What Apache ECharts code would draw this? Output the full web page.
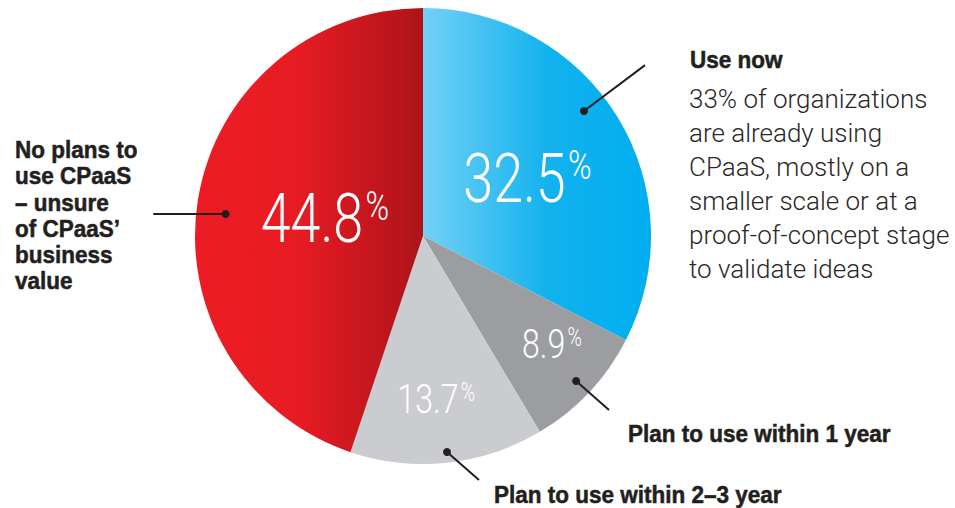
<!DOCTYPE html>
<html>
<head>
<meta charset="utf-8">
<script src="https://cdn.jsdelivr.net/npm/echarts@6/dist/echarts.min.js"></script>
<style>
html,body{margin:0;padding:0;background:#fff;}
#chart{width:955px;height:508px;}
</style>
</head>
<body>
<div id="chart"></div>
<script>
// ---- data ----
var categories = ['Use now', 'Plan to use within 1 year', 'Plan to use within 2–3 year', 'No plans to use CPaaS – unsure of CPaaS’ business value'];
var values = [32.5, 8.9, 13.7, 44.8];
var valueLabels = ['32.5', '8.9', '13.7', '44.8'];
var leftLabelLines = ['No plans to', 'use CPaaS', '– unsure', 'of CPaaS’', 'business', 'value'];
var useNowTitle = 'Use now';
var useNowBody = ['33% of organizations', 'are already using', 'CPaaS, mostly on a', 'smaller scale or at a', 'proof-of-concept stage', 'to validate ideas'];
var plan1Label = 'Plan to use within 1 year';
var plan23Label = 'Plan to use within 2–3 year';

// ---- layout / style (not data) ----
var CX = 423, CY = 236, R = 228;
var POLAR_EXT = 1.3;                       // polar system reaches 1.3 x pie radius
var labelRadius = [0.523, 0.739, 0.717, 0.437];
var labelAngleShift = [0.73, -0.86, 0.4, 0.22];
var bigSize = [69, 41, 41, 69];
var pctSize = [41, 25, 25, 41];
var numScaleX = 0.78;
// leader lines in polar space [radius as fraction of pie radius, angle percent]
var leaderStart = [[0.894, 14.49], [0.925, 37.07], [0.953, 48.24], [0.871, 76.77]];
var leaderEnd = [[1.229, 14.56], [1.117, 36.97], [1.098, 46.41], [1.187, 76.29]];

var sliceColors = [
  {type:'linear', x:0, y:0, x2:1, y2:0, colorStops:[{offset:0,color:'#72d1f6'},{offset:0.55,color:'#12b2ee'},{offset:1,color:'#00aeef'}]},
  '#9c9da1',
  '#cbcccf',
  {type:'linear', x:0, y:0, x2:1, y2:0, colorStops:[{offset:0,color:'#ed1c24'},{offset:0.45,color:'#e71b23'},{offset:1,color:'#ae131a'}]}
];

var total = values.reduce(function(a,b){return a+b;},0);
var midPct = [];
var acc = 0;
values.forEach(function(v){ midPct.push((acc + v/2)/total*100); acc += v; });

var NUMFONT = 'Roboto, "Liberation Sans", sans-serif';
var BOLDFONT = '"Liberation Sans", Arial, sans-serif';
var LIGHTFONT = 'Roboto, "Liberation Sans", sans-serif';
var INK = '#231f20';
var BOLD_SY = 1.08;

var series = [];
series.push({
  type: 'pie',
  center: [CX, CY],
  radius: R,
  startAngle: 90,
  clockwise: true,
  silent: true,
  label: {show:false},
  labelLine: {show:false},
  data: values.map(function(v,i){ return {name: categories[i], value: v, itemStyle:{color: sliceColors[i]}}; })
});

// leader lines with dots
leaderStart.forEach(function(s,i){
  series.push({
    type: 'line',
    coordinateSystem: 'polar',
    silent: true,
    clip: false,
    z: 6,
    lineStyle: {color: INK, width: 2},
    itemStyle: {color: INK},
    showSymbol: true,
    data: [
      {value: s, symbol: 'circle', symbolSize: 8},
      {value: leaderEnd[i], symbol: 'none'}
    ]
  });
});

function textEl(lines, x, y, fontSize, lineHeight, fontFamily, fontWeight, color){
  return {
    type: 'text',
    x: x, y: y,
    silent: true,
    style: {
      text: lines.join('\n'),
      fontSize: fontSize,
      fontFamily: fontFamily,
      fontWeight: fontWeight,
      lineHeight: lineHeight,
      fill: color,
      align: 'left',
      verticalAlign: 'top'
    }
  };
}
// bold label: slightly taller and heavier to mimic the condensed black face
function boldEl(lines, x, baseline, fontSize, lineHeight){
  var y = baseline - lineHeight / 2 - BOLD_SY * 0.3465 * fontSize;
  var el = textEl(lines, x, y, fontSize, lineHeight / BOLD_SY, BOLDFONT, 'bold', INK);
  el.scaleY = BOLD_SY;
  el.style.stroke = INK;
  el.style.lineWidth = 0.5;
  return el;
}

var chart = echarts.init(document.getElementById('chart'), null, {renderer: 'svg'});
chart.setOption({
  animation: false,
  backgroundColor: '#fff',
  polar: {center: [CX, CY], radius: R * POLAR_EXT},
  angleAxis: {type:'value', min:0, max:100, startAngle:90, clockwise:true, show:false},
  radiusAxis: {type:'value', min:0, max:POLAR_EXT, show:false},
  series: series
});

// value labels placed through the polar scale
var valueEls = values.map(function(v,i){
  var p = chart.convertToPixel({polarIndex: 0}, [labelRadius[i], midPct[i] + labelAngleShift[i]]);
  return {
    type: 'text',
    x: p[0], y: p[1],
    scaleX: numScaleX,
    silent: true,
    z: 10,
    style: {
      text: '{n|' + valueLabels[i] + '}{p|%}',
      align: 'center',
      verticalAlign: 'middle',
      rich: {
        n: {fontSize: bigSize[i], lineHeight: bigSize[i], fontFamily: NUMFONT, fontWeight: 300, fill:'#fff', color:'#fff'},
        p: {fontSize: pctSize[i], lineHeight: pctSize[i], fontFamily: NUMFONT, fontWeight: 300, fill:'#fff', color:'#fff', verticalAlign:'top', padding:[1,0,0,3]}
      }
    }
  };
});

chart.setOption({
  graphic: valueEls.concat([
    boldEl(leftLabelLines, 15, 158.3, 22.5, 26.2),
    boldEl([useNowTitle], 690, 68, 22.5, 26),
    textEl(useNowBody, 689, 81.9, 26, 34.1, LIGHTFONT, 300, '#2b2728'),
    boldEl([plan1Label], 628, 441.7, 22.5, 26),
    boldEl([plan23Label], 494, 503.3, 22.5, 26)
  ])
});
</script>
</body>
</html>
